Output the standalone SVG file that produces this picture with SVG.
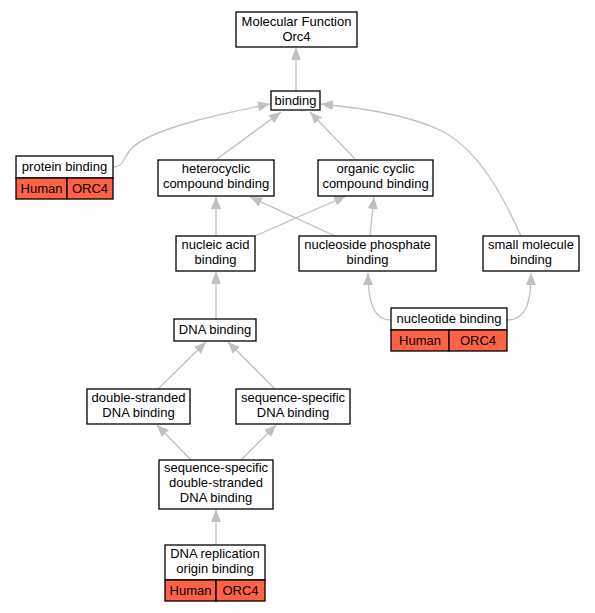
<svg xmlns="http://www.w3.org/2000/svg" width="595" height="613" viewBox="0 0 595 613">
<style>
.box{fill:#fff;stroke:#000;stroke-width:1.3}
.hl{fill:#ff6347;stroke:#000;stroke-width:1.3}
text{font-family:"Liberation Sans",Arial,sans-serif;font-size:13px;fill:#000;text-anchor:middle}
.e{fill:none;stroke:#c0c0c0;stroke-width:1.3;marker-end:url(#a)}
</style>
<defs>
<marker id="a" markerUnits="userSpaceOnUse" markerWidth="14" markerHeight="12" refX="12" refY="5" orient="auto">
<path d="M0,0 L12,5 L0,10 Z" fill="#c0c0c0"/>
</marker>
</defs>
<rect width="595" height="613" fill="#fff"/>
<g id="edges">
<path class="e" d="M296,91 L296,48"/>
<path class="e" d="M113,167 C125,167 122,157 133,147 C155,127 230,112 270,104"/>
<path class="e" d="M217,159 L281,112"/>
<path class="e" d="M355,159 L310,112"/>
<path class="e" d="M521,236 C505,200 480,150 440,130 C405,114 360,108 321,104"/>
<path class="e" d="M216,236 L216,197"/>
<path class="e" d="M255,236 L346,196"/>
<path class="e" d="M335,236 L250,197"/>
<path class="e" d="M370,236 L374,197"/>
<path class="e" d="M391,320 C375,320 368,305 368,273"/>
<path class="e" d="M507,320 C525,320 531,305 531,273"/>
<path class="e" d="M216,319 L216,272"/>
<path class="e" d="M158,389 L206,342"/>
<path class="e" d="M275,389 L228,342"/>
<path class="e" d="M191,460 L157,425"/>
<path class="e" d="M241,460 L276,425"/>
<path class="e" d="M216,545 L216,510"/>
</g>
<g id="n_mf">
<rect class="box" x="236" y="12" width="121" height="35"/>
<text x="296.5" y="26.2">Molecular Function</text>
<text x="296.5" y="40.8">Orc4</text>
</g>
<g id="n_binding">
<rect class="box" x="271" y="91" width="49" height="19"/>
<text x="295.5" y="105">binding</text>
</g>
<g id="n_protein">
<rect class="box" x="16" y="156" width="97" height="22"/>
<text x="64.5" y="171">protein binding</text>
<rect class="hl" x="16" y="178" width="51" height="21"/>
<rect class="hl" x="67" y="178" width="46" height="21"/>
<text x="41.5" y="193">Human</text>
<text x="90" y="193">ORC4</text>
</g>
<g id="n_hetero">
<rect class="box" x="158" y="160" width="116" height="36"/>
<text x="216" y="173.2">heterocyclic</text>
<text x="216" y="187.8">compound binding</text>
</g>
<g id="n_organic">
<rect class="box" x="318" y="160" width="115" height="36"/>
<text x="375.5" y="173.2">organic cyclic</text>
<text x="375.5" y="187.8">compound binding</text>
</g>
<g id="n_nucleic">
<rect class="box" x="176" y="236" width="79" height="35"/>
<text x="215.5" y="249.2">nucleic acid</text>
<text x="215.5" y="263.8">binding</text>
</g>
<g id="n_nucleoside">
<rect class="box" x="299" y="236" width="137" height="35"/>
<text x="367.5" y="249.2">nucleoside phosphate</text>
<text x="367.5" y="263.8">binding</text>
</g>
<g id="n_small">
<rect class="box" x="483" y="236" width="96" height="35"/>
<text x="531" y="249.2">small molecule</text>
<text x="531" y="263.8">binding</text>
</g>
<g id="n_nucleotide">
<rect class="box" x="391" y="308" width="116" height="22"/>
<text x="449" y="323">nucleotide binding</text>
<rect class="hl" x="391" y="330" width="58" height="21"/>
<rect class="hl" x="449" y="330" width="58" height="21"/>
<text x="420" y="345">Human</text>
<text x="478" y="345">ORC4</text>
</g>
<g id="n_dna">
<rect class="box" x="174" y="319" width="82" height="22"/>
<text x="215" y="334">DNA binding</text>
</g>
<g id="n_ds">
<rect class="box" x="87" y="389" width="103" height="35"/>
<text x="138.5" y="402.2">double-stranded</text>
<text x="138.5" y="416.8">DNA binding</text>
</g>
<g id="n_ss">
<rect class="box" x="236" y="389" width="114" height="35"/>
<text x="293" y="402.2">sequence-specific</text>
<text x="293" y="416.8">DNA binding</text>
</g>
<g id="n_ssds">
<rect class="box" x="159" y="460" width="114" height="49"/>
<text x="216" y="472.4">sequence-specific</text>
<text x="216" y="487">double-stranded</text>
<text x="216" y="501.6">DNA binding</text>
</g>
<g id="n_repl">
<rect class="box" x="165" y="545" width="100" height="35"/>
<text x="215" y="558.2">DNA replication</text>
<text x="215" y="572.8">origin binding</text>
<rect class="hl" x="165" y="580" width="51" height="21"/>
<rect class="hl" x="216" y="580" width="49" height="21"/>
<text x="190.5" y="595">Human</text>
<text x="240.5" y="595">ORC4</text>
</g>
</svg>
